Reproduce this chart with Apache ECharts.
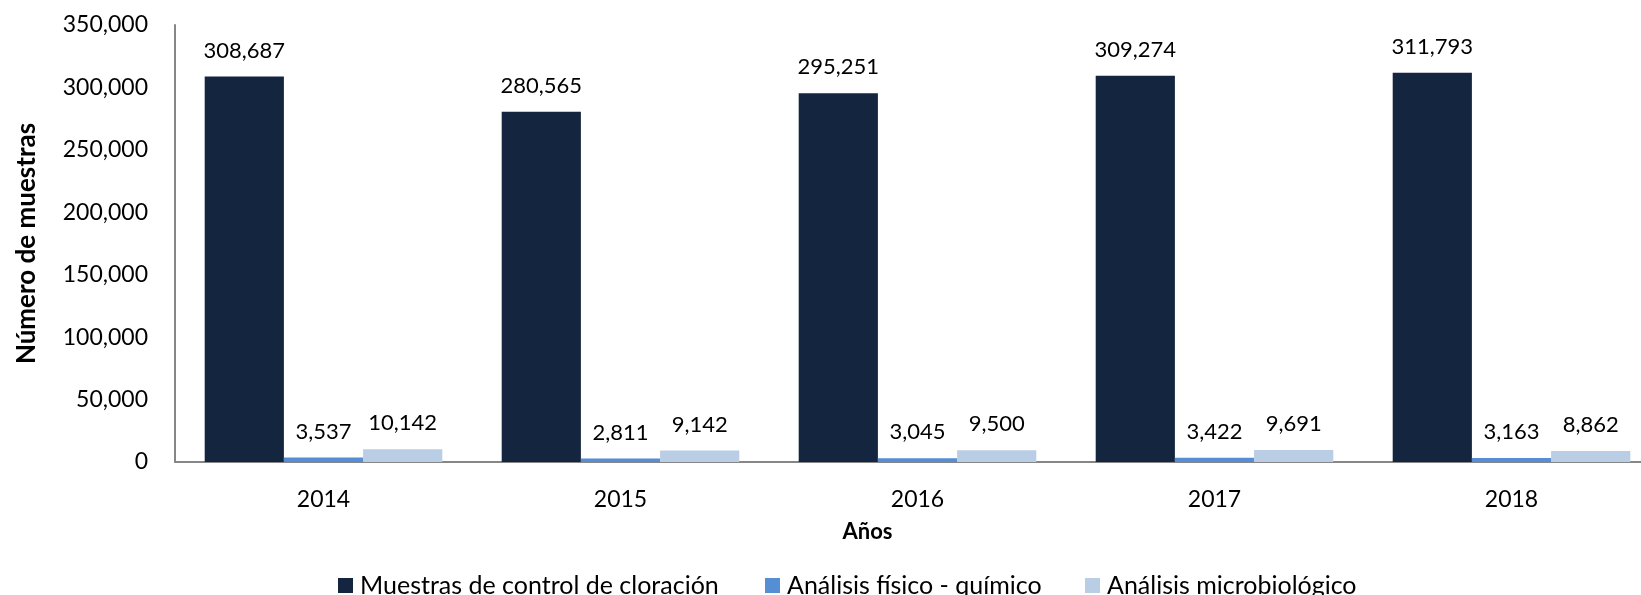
<!DOCTYPE html>
<html>
<head>
<meta charset="utf-8">
<script src="https://cdn.jsdelivr.net/npm/echarts@6/dist/echarts.min.js"></script>
<style>
html,body{margin:0;padding:0;background:#fff;overflow:hidden;width:1641px;height:595px;}
#chart{width:1680px;height:595px;}
</style>
</head>
<body>
<div id="chart"></div>
<script>
const categories = ['2014', '2015', '2016', '2017', '2018'];
const seriesNames = ['Muestras de control de cloración', 'Análisis físico - químico', 'Análisis microbiológico'];
const cloracion = [308687, 280565, 295251, 309274, 311793];
const fisicoQuimico = [3537, 2811, 3045, 3422, 3163];
const microbiologico = [10142, 9142, 9500, 9691, 8862];
const colors = ['#14263F', '#558ED5', '#B9CDE5'];

const fmt = v => v.toLocaleString('en-US');
const FONT = 'Lato';

const chart = echarts.init(document.getElementById('chart'));
const mk = (name, data, color) => ({
  name: name,
  type: 'bar',
  data: data,
  barGap: '0%',
  barCategoryGap: '20%',
  itemStyle: { color: color },
  label: {
    show: true,
    position: 'top',
    distance: 15,
    color: '#000',
    fontFamily: FONT,
    fontSize: 22,
    formatter: p => fmt(p.value)
  }
});
const legendLefts = [338, 765, 1085];
const mkLegend = (i) => ({
  top: 573,
  left: legendLefts[i],
  padding: 0,
  itemWidth: 15,
  itemHeight: 15,
  icon: 'rect',
  textStyle: { fontFamily: FONT, fontSize: 25, color: '#000', padding: [0, 0, 0, 2] },
  data: [seriesNames[i]]
});
chart.setOption({
  animation: false,
  textStyle: { fontFamily: FONT },
  grid: { left: 175, top: 25, right: 20, bottom: 133, containLabel: false },
  legend: [mkLegend(0), mkLegend(1), mkLegend(2)],
  xAxis: {
    type: 'category',
    data: categories,
    name: 'Años',
    nameLocation: 'middle',
    nameGap: 59,
    nameTextStyle: { fontFamily: FONT, fontSize: 22, fontWeight: 'bold', color: '#000', padding: [0, 100, 0, 0] },
    axisLine: { lineStyle: { color: '#868686', width: 2 } },
    axisTick: { show: false },
    axisLabel: { fontFamily: FONT, fontSize: 23, color: '#000', margin: 26 }
  },
  yAxis: {
    type: 'value',
    min: 0,
    max: 350000,
    interval: 50000,
    name: 'Número de muestras',
    nameLocation: 'middle',
    nameGap: 135,
    nameTextStyle: { fontFamily: FONT, fontSize: 26, fontWeight: 'bold', color: '#000' },
    axisLine: { show: true, lineStyle: { color: '#868686', width: 2 } },
    axisTick: { show: false },
    splitLine: { show: false },
    axisLabel: { fontFamily: FONT, fontSize: 23, color: '#000', margin: 27, formatter: v => fmt(v) }
  },
  series: [
    mk(seriesNames[0], cloracion, colors[0]),
    mk(seriesNames[1], fisicoQuimico, colors[1]),
    mk(seriesNames[2], microbiologico, colors[2])
  ]
});
</script>
</body>
</html>
